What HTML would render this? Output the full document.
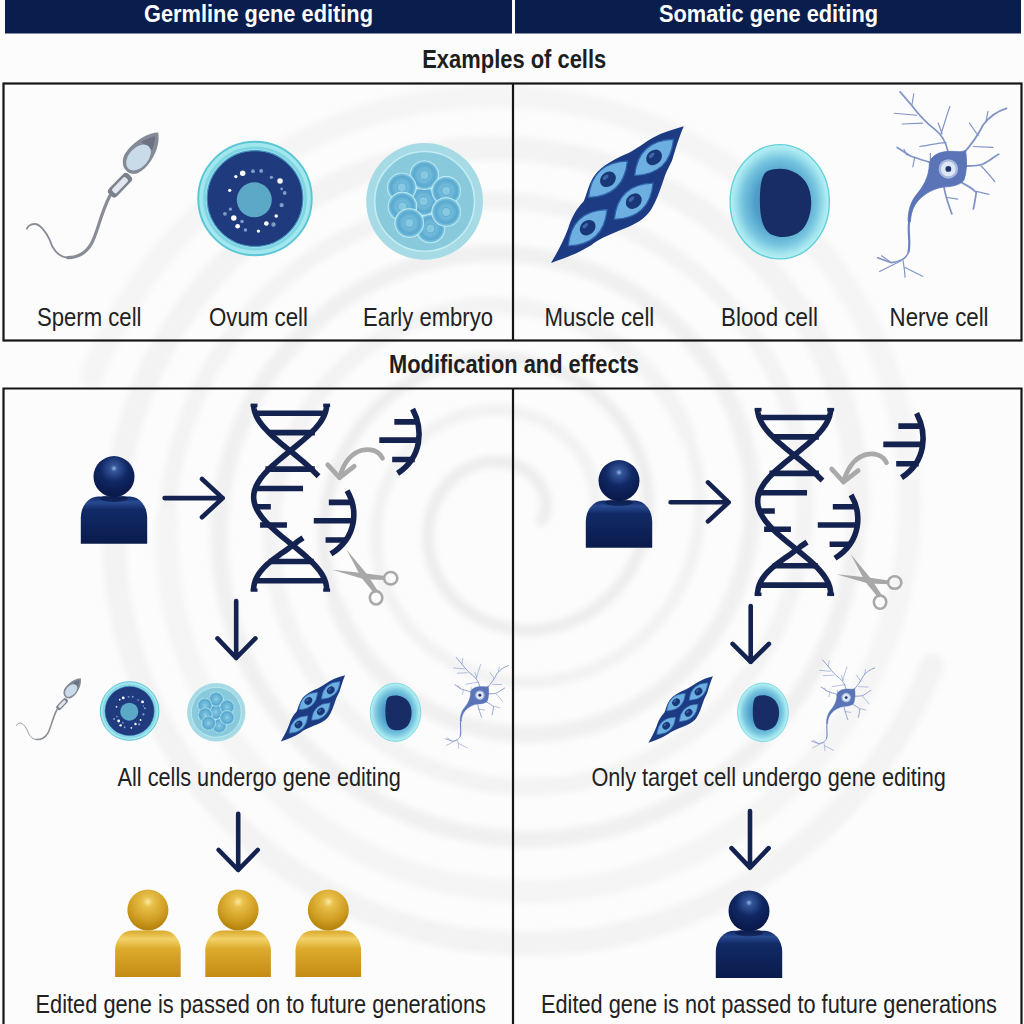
<!DOCTYPE html>
<html><head><meta charset="utf-8">
<style>
html,body{margin:0;padding:0;width:1024px;height:1024px;overflow:hidden;background:#fcfcfc;}
svg{position:absolute;left:0;top:0;}
text{font-family:"Liberation Sans",sans-serif;}
</style></head>
<body>
<svg width="1024" height="1024" viewBox="0 0 1024 1024">
<defs><filter id="blur" x="-10%" y="-10%" width="120%" height="120%"><feGaussianBlur stdDeviation="3"/></filter>
<linearGradient id="gPerson" x1="0" y1="0" x2="0" y2="1">
  <stop offset="0" stop-color="#0f2864"/><stop offset="0.12" stop-color="#284a90"/><stop offset="0.28" stop-color="#112a66"/><stop offset="1" stop-color="#0a1b4c"/>
</linearGradient>
<radialGradient id="gHead" cx="0.5" cy="0.3" r="0.65">
  <stop offset="0" stop-color="#9ab4e0"/><stop offset="0.12" stop-color="#34569a"/><stop offset="0.5" stop-color="#112864"/><stop offset="1" stop-color="#09194a"/>
</radialGradient>
<linearGradient id="gGold" x1="0" y1="0" x2="0" y2="1">
  <stop offset="0" stop-color="#d9a82a"/><stop offset="0.18" stop-color="#f2d268"/><stop offset="0.4" stop-color="#dcaa2c"/><stop offset="1" stop-color="#c48c14"/>
</linearGradient>
<radialGradient id="gGoldHead" cx="0.5" cy="0.3" r="0.65">
  <stop offset="0" stop-color="#fbeaa0"/><stop offset="0.2" stop-color="#e8c04a"/><stop offset="0.7" stop-color="#d09e22"/><stop offset="1" stop-color="#b8860f"/>
</radialGradient>
<radialGradient id="gBlood" cx="0.5" cy="0.5" r="0.5">
  <stop offset="0" stop-color="#3a80b6"/><stop offset="0.5" stop-color="#4f9fcb"/><stop offset="0.75" stop-color="#76c4df"/><stop offset="0.93" stop-color="#a8e9f0"/><stop offset="1" stop-color="#b5eef3"/>
</radialGradient>
<g id="sperm">
  <path d="M109.75,196 C100,215 97,235 91,244.4 C86,253 77,258 67.6,257.6" fill="none" stroke="#878c97" stroke-width="3.2" stroke-linecap="round"/>
  <path d="M67.6,257.6 C58,257 52,248 49.6,239.7 C46,232 40,224 34.75,224 C30,224 27.5,227 26.9,228.75" fill="none" stroke="#878c97" stroke-width="1.8" stroke-linecap="round"/>
  <rect x="-14" y="-5.5" width="28" height="11" rx="4" fill="#7c828d" transform="translate(120,185.2) rotate(-46)"/>
  <rect x="-9.5" y="-3" width="19" height="6" rx="2" fill="#e1e7ee" transform="translate(120,185.2) rotate(-46)"/>
  <path d="M158.2,132.4 C159.5,140 158,150 150.8,160.9 C146,168 140,173 135.2,173.8 C131,174.5 126,172 123.8,167.2 C122,163 122.5,156 126.6,151.6 C131,145 138,140 143.75,136.7 C149,134 153,132.5 158.2,132.4 Z" fill="#858b96"/><path d="M155,136 C152,137 146,139 141,142 L152,150 C154,146 155.5,140 155,136 Z" fill="#6b7385"/>
  <ellipse cx="0" cy="0" rx="9.6" ry="15" fill="#c9dae8" transform="translate(138.5,157.5) rotate(42)"/>
</g>
<g id="ovum">
  <circle r="415" fill="#a2e6ee" stroke="#5ac6d4" stroke-width="14"/>
  <circle r="370" fill="none" stroke="#7fd5e2" stroke-width="20"/>
  <circle r="350" fill="#1f3b7e" stroke="#3f8fbf" stroke-width="8"/>
  <circle cx="-5" cy="10" r="128" fill="#5ba8c7"/>
  <circle cx="-90" cy="-185" r="20" fill="#ffffff"/><circle cx="-140" cy="-160" r="12" fill="#ffffff"/><circle cx="-15" cy="-200" r="14" fill="#7e9cc8"/><circle cx="45" cy="-202" r="14" fill="#7e9cc8"/><circle cx="120" cy="-155" r="12" fill="#7e9cc8"/><circle cx="183" cy="-128" r="20" fill="#ffffff"/><circle cx="195" cy="-70" r="10" fill="#7e9cc8"/><circle cx="217" cy="-40" r="14" fill="#7e9cc8"/><circle cx="195" cy="48" r="16" fill="#7e9cc8"/><circle cx="155" cy="128" r="13" fill="#ffffff"/><circle cx="83" cy="183" r="17" fill="#ffffff"/><circle cx="135" cy="190" r="16" fill="#7e9cc8"/><circle cx="25" cy="238" r="12" fill="#ffffff"/><circle cx="-70" cy="230" r="13" fill="#7e9cc8"/><circle cx="-127" cy="203" r="17" fill="#ffffff"/><circle cx="-155" cy="142" r="20" fill="#ffffff"/><circle cx="-95" cy="168" r="13" fill="#7e9cc8"/><circle cx="-220" cy="112" r="14" fill="#7e9cc8"/><circle cx="-180" cy="78" r="12" fill="#7e9cc8"/><circle cx="-185" cy="-60" r="12" fill="#ffffff"/>
</g>
<radialGradient id="gCell" cx="0.5" cy="0.5" r="0.5">
  <stop offset="0" stop-color="#8ccde3"/><stop offset="0.3" stop-color="#79c0dc"/><stop offset="0.75" stop-color="#5aa8d0"/><stop offset="0.9" stop-color="#78c3de"/><stop offset="1" stop-color="#d8f6f9"/>
</radialGradient>
<g id="ecell">
  <circle r="108" fill="url(#gCell)"/>
  <circle r="34" fill="#86c9e1" stroke="#62aed3" stroke-width="9"/>
</g>
<g id="embryo">
  <circle r="427" fill="#a6dbe5"/>
  <circle r="365" fill="#88c9dc" stroke="#c2ecf3" stroke-width="12"/>
  <use href="#ecell" x="43" y="198"/>
  <use href="#ecell" x="-7" y="-2"/>
  <use href="#ecell" x="-2" y="-192"/>
  <use href="#ecell" x="-167" y="-102"/>
  <use href="#ecell" x="158" y="-77"/>
  <use href="#ecell" x="158" y="78"/>
  <use href="#ecell" x="-162" y="38"/>
  <use href="#ecell" x="-112" y="158"/>
</g>

<g id="muscle">
  <path d="M920,65 C895,120 870,200 845,285 C830,320 815,340 800,380 C770,470 740,560 700,615 C650,680 570,710 490,740 C430,765 370,790 330,825 C250,875 160,910 70,940 C110,875 150,800 180,720 C200,650 235,590 280,545 C300,500 310,440 345,385 C400,310 490,270 570,235 C630,205 690,150 770,115 C830,92 880,78 920,65 Z" fill="#1c3b82"/>
  <g id="spd"><path d="M-170,0 Q0,-150 170,0 Q0,150 -170,0 Z" fill="#6cafe0" stroke="#2f63ad" stroke-width="8" transform="translate(435,405) rotate(-43)"/>
  <ellipse rx="55" ry="45" fill="#1a3877" transform="translate(435,405) rotate(-43)"/><ellipse rx="22" ry="11" fill="#3e66a8" transform="translate(420,392) rotate(-43)"/></g>
  <use href="#spd" x="295" y="-140"/>
  <use href="#spd" x="165" y="140"/>
  <use href="#spd" x="-130" y="310"/>
</g>
<g id="blood">
  <ellipse cx="510" cy="525" rx="363" ry="418" fill="url(#gBlood)" stroke="#62d0da" stroke-width="10"/>
  <path d="M420,300 C520,260 640,290 700,380 C760,470 750,620 690,710 C630,790 520,800 440,760 C380,720 365,620 365,520 C365,400 380,320 420,300 Z" fill="#182c66"/>
</g>
<g id="nerve" fill="none" stroke="#8094c6" stroke-linecap="round" stroke-linejoin="round">
  <g stroke-width="9">
  <path d="M430,345 C420,300 400,260 360,230 C320,200 290,170 245,110 L185,40"/>
  <path d="M510,355 C550,310 580,270 610,210 C640,170 680,140 730,125"/>
  <path d="M520,420 C560,420 590,420 610,410 C640,395 670,370 690,360"/>
  <path d="M500,505 C530,520 560,540 575,555 C570,590 565,620 560,640"/>
  <path d="M410,530 C415,560 425,600 450,665"/>
  <path d="M335,400 C300,390 270,380 240,370 L170,325"/>
  </g>
  <g stroke-width="6">
  <path d="M245,110 L255,50 M270,160 L155,150 M300,200 L195,205 M395,255 C410,210 420,170 440,115 M400,255 L380,200 M420,300 C380,300 330,315 285,320"/>
  <path d="M625,190 L635,140 M585,265 L540,200 M560,320 L660,325"/>
  <path d="M600,420 C630,450 650,475 670,500 M575,550 L640,565 M420,580 L480,590"/>
  <path d="M260,375 L250,425 M220,365 L205,335 M340,400 L340,355"/>
  <path d="M190,905 L80,960 M200,905 C205,940 210,965 210,990 M210,940 L300,985 M140,915 L90,880"/>
  </g>
  <path d="M232,700 C222,760 240,800 228,860" stroke="#6a7fbd" stroke-width="11"/>
  <path d="M228,860 C218,895 190,910 140,915 L70,890" stroke="#7d91c3" stroke-width="8"/>
  <path d="M335,410 C338,368 385,348 430,345 C470,343 495,352 520,340 C528,385 528,445 512,492 C492,520 445,526 405,528 C360,535 310,560 275,600 C250,630 240,665 238,705 L226,705 C224,655 240,600 270,565 C300,530 333,480 335,410 Z" fill="#5b74b8" stroke="#5b74b8" stroke-width="4" stroke-linejoin="round"/>
  <circle cx="432" cy="435" r="44" fill="#dde6f5" stroke="#a6b8dc" stroke-width="12"/>
  <circle cx="432" cy="435" r="15" fill="#22366e" stroke="none"/>
</g>

<g id="dna">
  <g fill="none" stroke="#14224f" stroke-width="26">
    <path d="M110.0,45.0 L111.3,61.6 L115.0,78.3 L121.2,95.0 L129.7,111.6 L140.5,128.2 L153.3,144.9 L168.0,161.6 L184.3,178.2 L202.1,194.8 L221.0,211.5 L240.8,228.2 L261.2,244.8 L281.8,261.4 L302.4,278.1 L322.7,294.8 L342.4,311.4 L361.1,328.1 L378.6,344.7 L394.7,361.4 L412,378.0"/>
    <path d="M450.0,45.0 L448.5,63.0 L444.1,81.0 L436.9,99.1 L427.0,117.1 L414.5,135.1 L399.7,153.1 L382.8,171.1 L364.1,189.2 L344.0,207.2 L322.7,225.2 L300.8,243.2 L278.4,261.2 L256.1,279.3 L234.3,297.3 L213.2,315.3 L193.2,333.3 L174.8,351.4 L158.2,369.4 L143.6,387.4 L131.5,405.4 L121.9,423.4 L115.1,441.5 L111.1,459.5 L110.0,477.5 L111.9,495.5 L116.7,513.5 L124.3,531.6 L134.6,549.6 L147.4,567.6 L162.6,585.6 L179.7,603.6 L198.6,621.7 L218.9,639.7 L240.3,657.7 L262.3,675.7 L284.7,693.8 L306.9,711.8 L328.7,729.8 L349.7,747.8 L369.4,765.8 L387.6,783.9 L404.0,801.9 L418.2,819.9 L430.0,837.9 L439.2,855.9 L445.6,874.0 L449.2,892.0 L449.9,910.0"/>
    <path d="M340,665 L314.5,682.0 L295.5,697.5 L276.3,711.0 L257.1,725.5 L238.2,738.0 L219.9,751.5 L202.3,764.0 L185.7,777.5 L170.3,791.0 L156.3,804.5 L143.9,819.0 L133.3,833.5 L124.5,848.0 L117.8,863.5 L113.1,879.0 L110.5,894.5 L110.1,910.0"/>
    <path d="M125,85 H435 M180,175 H395 M165,345 H395 M120,435 H340 M118,520 H190 M140,605 H265 M180,775 H390 M125,865 H440"/>
    <path d="M545,445 C595,530 595,660 470,740"/>
    <path d="M460,500 H565 M390,585 H575 M445,675 H545"/>
    <path d="M850,65 C900,160 895,290 780,365"/>
    <path d="M765,125 H872 M695,210 H885 M755,300 H860"/>
  </g>
  <g fill="#14224f"><rect x="96" y="40" width="32" height="16"/><rect x="434" y="40" width="32" height="16"/><rect x="96" y="900" width="32" height="16"/><rect x="434" y="900" width="32" height="16"/></g>
  <g fill="none" stroke="#a9a9a9" stroke-width="22" stroke-linecap="round" stroke-linejoin="round">
    <path d="M710,295 C680,230 550,230 510,385"/>
    <path d="M455,325 L510,385 L578,332"/>
  </g>
  <g fill="#a8a8a8">
    <path d="M543,720 L638,835 L690,915 L670,922 L610,848 Z"/>
    <path d="M476,814 L625,830 L722,843 L722,861 L625,858 Z"/>
  </g>
  <g fill="none" stroke="#a8a8a8" stroke-width="12">
    <ellipse cx="748" cy="853" rx="31" ry="29"/>
    <ellipse cx="680" cy="944" rx="29" ry="31"/>
  </g>
</g>
<g id="person">
  <path d="M0,47.3 V21 A17.5,21 0 0 1 17.5,0 H48.9 A17.5,21 0 0 1 66.4,21 V47.3 Z" fill="url(#gPerson)"/>
  <ellipse cx="33.2" cy="2" rx="14" ry="3.5" fill="#0a1a48" opacity="0.7"/>
  <circle cx="33.2" cy="-19.9" r="20.5" fill="url(#gHead)"/>
</g>
<g id="gold">
  <path d="M0,46.4 V20 A17,20 0 0 1 17,0 H48.6 A17,20 0 0 1 65.6,20 V46.4 Z" fill="url(#gGold)"/>
  <circle cx="32.8" cy="-20.6" r="20.5" fill="url(#gGoldHead)"/>
</g>
</defs>
<!-- background spiral -->
<g id="bg" fill="none" stroke-linecap="round" filter="url(#blur)"><path d="M542.0,520.0 L542.8,518.5 L543.5,516.8 L544.1,515.1 L544.7,513.4 L545.1,511.5 L545.4,509.7 L545.7,507.7 L545.8,505.7 L545.8,503.7 L545.7,501.6 L545.4,499.5 L545.0,497.4 L544.5,495.3 L543.9,493.1 L543.1,491.0 L542.2,488.9 L541.2,486.8 L540.0,484.7 L538.7,482.7 L537.2,480.7 L535.7,478.8 L533.9,476.9 L532.1,475.1 L530.1,473.3 L528.0,471.7 L525.8,470.2 L523.5,468.7 L521.1,467.4 L518.5,466.2 L515.9,465.1 L513.2,464.1 L510.3,463.3 L507.4,462.6 L504.5,462.1 L501.4,461.7 L498.3,461.5 L495.2,461.4 L492.0,461.6 L488.8,461.9 L485.6,462.3 L482.4,463.0 L479.1,463.8 L475.9,464.8 L472.7,466.0 L469.5,467.4 L466.4,469.0 L463.3,470.7 L460.3,472.6 L457.4,474.8 L454.5,477.0 L451.7,479.5 L449.1,482.1 L446.5,484.9 L444.1,487.9 L441.8,491.0 L439.6,494.3 L437.6,497.7 L435.8,501.2 L434.2,504.9 L432.7,508.7 L431.4,512.6 L430.3,516.6 L429.4,520.7 L428.7,524.9 L428.2,529.1 L427.9,533.4 L427.9,537.8 L428.1,542.2 L428.5,546.6 L429.1,551.0 L430.0,555.5 L431.1,559.9 L432.5,564.3 L434.1,568.7 L436.0,573.0 L438.0,577.2 L440.4,581.4 L442.9,585.5 L445.7,589.4 L448.7,593.3 L451.9,597.0 L455.4,600.6 L459.0,604.0 L462.9,607.3 L466.9,610.4 L471.2,613.3 L475.6,616.0 L480.2,618.5 L484.9,620.8 L489.8,622.8 L494.9,624.6 L500.0,626.2 L505.3,627.5 L510.7,628.5 L516.1,629.3 L521.6,629.8 L527.2,630.0 L532.9,629.9 L538.5,629.6 L544.2,628.9 L549.9,627.9 L555.6,626.7 L561.2,625.1 L566.8,623.3 L572.3,621.1 L577.7,618.7 L583.1,615.9 L588.3,612.9 L593.4,609.6 L598.4,606.0 L603.2,602.1 L607.8,598.0 L612.3,593.6 L616.6,589.0 L620.6,584.1 L624.4,579.0 L628.0,573.6 L631.3,568.1 L634.3,562.3 L637.1,556.4 L639.6,550.3 L641.7,544.0 L643.6,537.6 L645.1,531.1 L646.4,524.5 L647.3,517.7 L647.8,510.9 L648.0,504.0 L647.9,497.1 L647.4,490.2 L646.5,483.2 L645.3,476.3 L643.7,469.4 L641.8,462.5 L639.5,455.7 L636.9,449.0 L633.9,442.4 L630.5,435.9 L626.8,429.6 L622.8,423.4 L618.4,417.4 L613.8,411.6 L608.8,406.1 L603.4,400.7 L597.8,395.6 L592.0,390.7 L585.8,386.2 L579.4,381.9 L572.7,377.9 L565.8,374.3 L558.7,371.0 L551.4,368.0 L544.0,365.4 L536.3,363.2 L528.6,361.3 L520.7,359.9 L512.6,358.8 L504.5,358.2 L496.4,357.9 L488.2,358.1 L480.0,358.6 L471.7,359.6 L463.5,361.0 L455.4,362.9 L447.2,365.1 L439.2,367.8 L431.3,370.9 L423.5,374.4 L415.9,378.3 L408.4,382.6 L401.2,387.3 L394.1,392.4 L387.3,397.9 L380.7,403.7 L374.4,409.9 L368.4,416.4 L362.7,423.3 L357.3,430.5 L352.3,437.9 L347.6,445.7 L343.3,453.7 L339.4,461.9 L336.0,470.4 L332.9,479.0 L330.2,487.9 L328.0,496.9 L326.3,506.1 L325.0,515.4 L324.1,524.7 L323.8,534.2 L323.9,543.7 L324.5,553.2 L325.6,562.7 L327.1,572.2 L329.2,581.6 L331.7,591.0 L334.7,600.3 L338.2,609.4 L342.2,618.4 L346.6,627.2 L351.5,635.9 L356.8,644.3 L362.6,652.4" stroke="#ededed" stroke-width="12"/><path d="M336.3,604.6 L340.0,613.7 L344.2,622.6 L348.9,631.3 L354.0,639.8 L359.5,648.1 L365.5,656.2 L371.9,663.9 L378.7,671.4 L385.9,678.5 L393.5,685.3 L401.5,691.7 L409.8,697.7 L418.4,703.4 L427.3,708.6 L436.6,713.3 L446.1,717.7 L455.8,721.5 L465.8,724.9 L475.9,727.8 L486.2,730.1 L496.7,732.0 L507.3,733.3 L518.0,734.1 L528.8,734.4 L539.6,734.1 L550.4,733.3 L561.2,731.9 L571.9,730.0 L582.6,727.5 L593.2,724.5 L603.7,721.0 L614.0,716.9 L624.1,712.3 L634.1,707.1 L643.8,701.5 L653.2,695.3 L662.3,688.6 L671.1,681.5 L679.6,673.9 L687.8,665.9 L695.5,657.4 L702.8,648.5 L709.7,639.3 L716.2,629.6 L722.2,619.7 L727.7,609.4 L732.6,598.7 L737.1,587.9 L741.0,576.7 L744.4,565.4 L747.2,553.8 L749.4,542.1 L751.1,530.2 L752.1,518.3 L752.6,506.2 L752.4,494.1 L751.6,482.0 L750.3,469.9 L748.3,457.9 L745.7,445.9 L742.4,434.0 L738.6,422.3 L734.2,410.7 L729.2,399.3 L723.6,388.2 L717.4,377.3 L710.7,366.7 L703.4,356.4 L695.6,346.5 L687.3,336.9 L678.5,327.7 L669.2,319.0 L659.4,310.7 L649.2,302.9 L638.6,295.6 L627.6,288.8 L616.2,282.5 L604.5,276.8 L592.5,271.7 L580.2,267.2 L567.7,263.3 L554.9,260.0 L542.0,257.4 L528.9,255.3 L515.6,254.0 L502.3,253.3 L488.9,253.3 L475.5,254.0 L462.1,255.3 L448.7,257.3 L435.4,260.0 L422.3,263.4 L409.2,267.4 L396.4,272.1 L383.7,277.4 L371.4,283.4 L359.2,290.1 L347.4,297.3 L336.0,305.2 L324.9,313.6 L314.2,322.6 L304.0,332.2 L294.2,342.3 L284.9,352.9 L276.2,364.0 L268.0,375.6 L260.3,387.6 L253.2,400.0 L246.8,412.7 L241.0,425.8 L235.8,439.3 L231.3,453.0 L227.5,466.9 L224.4,481.1 L221.9,495.5 L220.2,510.0 L219.3,524.6 L219.0,539.3 L219.5,554.0 L220.8,568.7 L222.8,583.4 L225.5,597.9 L228.9,612.4 L233.1,626.8 L238.0,640.9 L243.7,654.8 L250.0,668.5 L257.1,681.8 L264.8,694.8 L273.2,707.5 L282.2,719.7 L291.9,731.6 L302.2,742.9 L313.0,753.8 L324.5,764.1 L336.4,773.8 L348.9,783.0 L361.8,791.5 L375.2,799.5 L389.0,806.7 L403.2,813.3 L417.8,819.2 L432.6,824.3 L447.8,828.7 L463.1,832.4 L478.7,835.2 L494.5,837.3 L510.3,838.7 L526.3,839.2 L542.3,838.9 L558.3,837.8 L574.3,835.9 L590.2,833.2 L606.0,829.7 L621.7,825.4 L637.1,820.3 L652.4,814.4 L667.3,807.8 L681.9,800.4 L696.2,792.2 L710.1,783.4 L723.5,773.8 L736.5,763.5 L749.0,752.6 L760.9,741.0 L772.3,728.8 L783.1,716.0 L793.3,702.7 L802.8,688.8 L811.6,674.4 L819.7,659.6 L827.1,644.4 L833.7,628.7 L839.5,612.8 L844.5,596.5 L848.8,579.9 L852.2,563.1 L854.7,546.1 L856.4,529.0 L857.3,511.7 L857.3,494.4 L856.4,477.1 L854.7,459.8 L852.0,442.5 L848.5,425.4" stroke="#f0f0f0" stroke-width="17"/><path d="M857.0,520.0 L857.4,502.7 L856.9,485.4 L855.6,468.1 L853.4,450.8 L850.3,433.6 L846.4,416.6 L841.6,399.7 L835.9,383.0 L829.4,366.7 L822.1,350.6 L814.0,334.9 L805.0,319.5 L795.3,304.6 L784.8,290.2 L773.6,276.3 L761.7,262.9 L749.1,250.1 L735.8,238.0 L721.9,226.5 L707.4,215.6 L692.4,205.5 L676.8,196.2 L660.8,187.6 L644.3,179.8 L627.4,172.8 L610.1,166.6 L592.5,161.4 L574.6,157.0 L556.5,153.5 L538.2,150.9 L519.7,149.2 L501.1,148.4 L482.5,148.6 L463.9,149.7 L445.3,151.7 L426.8,154.7 L408.4,158.6 L390.2,163.5 L372.2,169.2 L354.5,175.9 L337.1,183.5 L320.1,191.9 L303.5,201.2 L287.3,211.3 L271.7,222.3 L256.5,234.1 L242.0,246.6 L228.0,259.9 L214.7,273.9 L202.1,288.5 L190.3,303.8 L179.1,319.8 L168.8,336.2 L159.3,353.3 L150.6,370.8 L142.8,388.8 L135.9,407.1 L130.0,425.9 L124.9,444.9 L120.8,464.2 L117.7,483.8 L115.5,503.5 L114.4,523.3 L114.2,543.3 L115.0,563.2 L116.9,583.1 L119.7,603.0 L123.5,622.7 L128.3,642.2 L134.1,661.5 L140.9,680.6 L148.7,699.3 L157.4,717.6 L167.0,735.6 L177.5,753.0 L188.9,769.9 L201.1,786.3 L214.2,802.1 L228.1,817.2 L242.8,831.7 L258.2,845.4 L274.3,858.4 L291.1,870.5 L308.4,881.9 L326.4,892.3 L344.9,901.9 L363.9,910.6 L383.4,918.3 L403.2,925.0 L423.4,930.8 L443.9,935.5 L464.7,939.2 L485.6,941.9 L506.8,943.5 L528.0,944.1 L549.2,943.6 L570.4,942.0 L591.6,939.4 L612.7,935.7 L633.6,931.0 L654.2,925.2 L674.6,918.3 L694.7,910.4 L714.4,901.6 L733.6,891.7 L752.4,880.8 L770.6,869.1 L788.2,856.3 L805.3,842.7 L821.6,828.3 L837.3,813.0 L852.2,796.9 L866.2,780.0 L879.5,762.4 L891.9,744.2 L903.3,725.3 L913.9,705.9 L923.4,685.9 L932.0,665.4" stroke="#f3f3f3" stroke-width="24"/><path d="M594.5,520.0 L595.2,515.8 L595.8,511.6 L596.1,507.3 L596.1,502.9 L596.0,498.6 L595.6,494.1 L595.0,489.7 L594.1,485.3 L593.1,480.8 L591.7,476.4 L590.2,472.1 L588.4,467.8 L586.3,463.5 L584.0,459.3 L581.5,455.2 L578.8,451.2 L575.8,447.3 L572.6,443.6 L569.2,440.0 L565.6,436.5 L561.8,433.2 L557.8,430.1 L553.6,427.2 L549.2,424.4 L544.6,421.9 L539.9,419.6 L535.0,417.5 L530.0,415.6 L524.9,414.0 L519.6,412.7 L514.3,411.6 L508.8,410.8 L503.3,410.3 L497.7,410.0 L492.1,410.0 L486.4,410.4 L480.7,411.0 L475.1,411.9 L469.4,413.1 L463.8,414.6 L458.2,416.4 L452.6,418.5 L447.2,420.9 L441.8,423.6 L436.6,426.6 L431.4,429.8 L426.4,433.4 L421.6,437.2 L416.9,441.3 L412.4,445.6 L408.1,450.2 L404.1,455.1 L400.2,460.2 L396.6,465.5 L393.3,471.0 L390.2,476.7 L387.4,482.6 L384.8,488.7 L382.6,494.9 L380.7,501.3 L379.1,507.8 L377.8,514.4 L376.9,521.1 L376.3,527.9 L376.0,534.8 L376.1,541.7 L376.5,548.7 L377.3,555.6 L378.5,562.5 L380.0,569.5 L381.8,576.3 L384.1,583.1 L386.7,589.9 L389.6,596.5 L392.9,603.0 L396.5,609.3 L400.5,615.5 L404.8,621.6 L409.4,627.4 L414.4,633.0 L419.6,638.4 L425.2,643.6 L431.0,648.5 L437.1,653.1 L443.5,657.4 L450.1,661.4 L457.0,665.1 L464.0,668.5 L471.3,671.5 L478.8,674.2 L486.4,676.5 L494.1,678.4 L502.0,679.9 L510.0,681.0 L518.1,681.8 L526.2,682.1 L534.4,682.0 L542.7,681.5 L550.9,680.6 L559.1,679.2 L567.3,677.5 L575.4,675.3 L583.4,672.7 L591.4,669.7 L599.2,666.2 L606.8,662.4 L614.3,658.1 L621.6,653.5 L628.7,648.5 L635.6,643.1 L642.2,637.3 L648.6,631.2 L654.6,624.7 L660.4,617.9 L665.8,610.8 L670.9,603.4 L675.6,595.7 L680.0,587.7 L683.9,579.5 L687.5,571.1 L690.6,562.4 L693.4,553.6 L695.6,544.6 L697.5,535.5 L698.8,526.2 L699.8,516.8 L700.2,507.4 L700.2,497.9 L699.6,488.4 L698.6,478.9 L697.2,469.4 L695.2,459.9 L692.7,450.6 L689.8,441.3 L686.4,432.1 L682.5,423.1 L678.2,414.2 L673.4,405.6 L668.1,397.1 L662.4,388.9" stroke="#f2f2f2" stroke-width="12"/><path d="M687.7,435.4 L684.0,426.3 L679.8,417.4 L675.1,408.7 L670.0,400.2 L664.5,391.9 L658.5,383.8 L652.1,376.1 L645.3,368.6 L638.1,361.5 L630.5,354.7 L622.5,348.3 L614.2,342.3 L605.6,336.6 L596.7,331.4 L587.4,326.7 L577.9,322.3 L568.2,318.5 L558.2,315.1 L548.1,312.2 L537.8,309.9 L527.3,308.0 L516.7,306.7 L506.0,305.9 L495.2,305.6 L484.4,305.9 L473.6,306.7 L462.8,308.1 L452.1,310.0 L441.4,312.5 L430.8,315.5 L420.3,319.0 L410.0,323.1 L399.9,327.7 L389.9,332.9 L380.2,338.5 L370.8,344.7 L361.7,351.4 L352.9,358.5 L344.4,366.1 L336.2,374.1 L328.5,382.6 L321.2,391.5 L314.3,400.7 L307.8,410.4 L301.8,420.3 L296.3,430.6 L291.4,441.3 L286.9,452.1 L283.0,463.3 L279.6,474.6 L276.8,486.2 L274.6,497.9 L272.9,509.8 L271.9,521.7 L271.4,533.8 L271.6,545.9 L272.4,558.0 L273.7,570.1 L275.7,582.1 L278.3,594.1 L281.6,606.0 L285.4,617.7 L289.8,629.3 L294.8,640.7 L300.4,651.8 L306.6,662.7 L313.3,673.3 L320.6,683.6 L328.4,693.5 L336.7,703.1 L345.5,712.3 L354.8,721.0 L364.6,729.3 L374.8,737.1 L385.4,744.4 L396.4,751.2 L407.8,757.5 L419.5,763.2 L431.5,768.3 L443.8,772.8 L456.3,776.7 L469.1,780.0 L482.0,782.6 L495.1,784.7 L508.4,786.0 L521.7,786.7 L535.1,786.7 L548.5,786.0 L561.9,784.7 L575.3,782.7 L588.6,780.0 L601.7,776.6 L614.8,772.6 L627.6,767.9 L640.3,762.6 L652.6,756.6 L664.8,749.9 L676.6,742.7 L688.0,734.8 L699.1,726.4 L709.8,717.4 L720.0,707.8 L729.8,697.7 L739.1,687.1 L747.8,676.0 L756.0,664.4 L763.7,652.4 L770.8,640.0 L777.2,627.3 L783.0,614.2 L788.2,600.7 L792.7,587.0 L796.5,573.1 L799.6,558.9 L802.1,544.5 L803.8,530.0 L804.7,515.4 L805.0,500.7 L804.5,486.0 L803.2,471.3 L801.2,456.6 L798.5,442.1 L795.1,427.6 L790.9,413.2 L786.0,399.1 L780.3,385.2 L774.0,371.5 L766.9,358.2 L759.2,345.2 L750.8,332.5 L741.8,320.3 L732.1,308.4 L721.8,297.1 L711.0,286.2 L699.5,275.9 L687.6,266.2 L675.1,257.0 L662.2,248.5 L648.8,240.5 L635.0,233.3 L620.8,226.7 L606.2,220.8 L591.4,215.7 L576.2,211.3 L560.9,207.6 L545.3,204.8 L529.5,202.7 L513.7,201.3 L497.7,200.8 L481.7,201.1 L465.7,202.2 L449.7,204.1 L433.8,206.8 L418.0,210.3 L402.3,214.6 L386.9,219.7 L371.6,225.6 L356.7,232.2 L342.1,239.6 L327.8,247.8 L313.9,256.6 L300.5,266.2 L287.5,276.5 L275.0,287.4 L263.1,299.0 L251.7,311.2 L240.9,324.0 L230.7,337.3 L221.2,351.2 L212.4,365.6 L204.3,380.4 L196.9,395.6 L190.3,411.3 L184.5,427.2 L179.5,443.5 L175.2,460.1 L171.8,476.9 L169.3,493.9 L167.6,511.0 L166.7,528.3 L166.7,545.6 L167.6,562.9 L169.3,580.2 L172.0,597.5 L175.5,614.6" stroke="#f3f3f3" stroke-width="17"/><path d="M167.0,520.0 L166.6,537.3 L167.1,554.6 L168.4,571.9 L170.6,589.2 L173.7,606.4 L177.6,623.4 L182.4,640.3 L188.1,657.0 L194.6,673.3 L201.9,689.4 L210.0,705.1 L219.0,720.5 L228.7,735.4 L239.2,749.8 L250.4,763.7 L262.3,777.1 L274.9,789.9 L288.2,802.0 L302.1,813.5 L316.6,824.4 L331.6,834.5 L347.2,843.8 L363.2,852.4 L379.7,860.2 L396.6,867.2 L413.9,873.4 L431.5,878.6 L449.4,883.0 L467.5,886.5 L485.8,889.1 L504.3,890.8 L522.9,891.6 L541.5,891.4 L560.1,890.3 L578.7,888.3 L597.2,885.3 L615.6,881.4 L633.8,876.5 L651.8,870.8 L669.5,864.1 L686.9,856.5 L703.9,848.1 L720.5,838.8 L736.7,828.7 L752.3,817.7 L767.5,805.9 L782.0,793.4 L796.0,780.1 L809.3,766.1 L821.9,751.5 L833.7,736.2 L844.9,720.2 L855.2,703.8 L864.7,686.7 L873.4,669.2 L881.2,651.2 L888.1,632.9 L894.0,614.1 L899.1,595.1 L903.2,575.8 L906.3,556.2 L908.5,536.5 L909.6,516.7 L909.8,496.7 L909.0,476.8 L907.1,456.9 L904.3,437.0 L900.5,417.3 L895.7,397.8 L889.9,378.5 L883.1,359.4 L875.3,340.7 L866.6,322.4 L857.0,304.4 L846.5,287.0 L835.1,270.1 L822.9,253.7 L809.8,237.9 L795.9,222.8 L781.2,208.3 L765.8,194.6 L749.7,181.6 L732.9,169.5 L715.6,158.1 L697.6,147.7 L679.1,138.1 L660.1,129.4 L640.6,121.7 L620.8,115.0 L600.6,109.2 L580.1,104.5 L559.3,100.8 L538.4,98.1 L517.2,96.5 L496.0,95.9 L474.8,96.4 L453.6,98.0 L432.4,100.6 L411.3,104.3 L390.4,109.0 L369.8,114.8 L349.4,121.7 L329.3,129.6 L309.6,138.4 L290.4,148.3 L271.6,159.2 L253.4,170.9 L235.8,183.7 L218.7,197.3 L202.4,211.7 L186.7,227.0 L171.8,243.1 L157.8,260.0 L144.5,277.6 L132.1,295.8 L120.7,314.7 L110.1,334.1 L100.6,354.1 L92.0,374.6" stroke="#f5f5f5" stroke-width="24"/></g>

<!-- header bars -->
<rect x="5" y="0" width="507" height="33.5" fill="#091e4c"/>
<rect x="515" y="0" width="506" height="33.5" fill="#091e4c"/>
<text x="144.00" y="21.5" font-size="24" font-weight="700" fill="#fff" textLength="229.00" lengthAdjust="spacingAndGlyphs">Germline gene editing</text>
<text x="659.00" y="21.5" font-size="24" font-weight="700" fill="#fff" textLength="219.00" lengthAdjust="spacingAndGlyphs">Somatic gene editing</text>

<!-- section titles -->
<text x="422.25" y="67.5" font-size="25" font-weight="700" fill="#1e1e1e" textLength="184.00" lengthAdjust="spacingAndGlyphs">Examples of cells</text>
<text x="389.00" y="372.7" font-size="25.5" font-weight="700" fill="#1e1e1e" textLength="250.00" lengthAdjust="spacingAndGlyphs">Modification and effects</text>

<!-- boxes -->
<g fill="none" stroke="#151515" stroke-width="2.2">
<rect x="3.5" y="83.5" width="1018" height="257"/>
<line x1="513" y1="83.5" x2="513" y2="340.5"/>
<path d="M3.5 1030 V388.5 H1021.5 V1030"/>
<line x1="513" y1="388.5" x2="513" y2="1030"/>
</g>

<!-- labels -->
<g font-size="25.5" fill="#222">
<text x="37.00" y="325.5" textLength="104.50" lengthAdjust="spacingAndGlyphs">Sperm cell</text>
<text x="209.00" y="325.5" textLength="99.00" lengthAdjust="spacingAndGlyphs">Ovum cell</text>
<text x="363.00" y="325.5" textLength="130.00" lengthAdjust="spacingAndGlyphs">Early embryo</text>
<text x="544.55" y="325.5" textLength="109.75" lengthAdjust="spacingAndGlyphs">Muscle cell</text>
<text x="721.00" y="325.5" textLength="97.00" lengthAdjust="spacingAndGlyphs">Blood cell</text>
<text x="889.55" y="325.5" textLength="99.00" lengthAdjust="spacingAndGlyphs">Nerve cell</text>
<text x="117.60" y="785.7" textLength="283.20" lengthAdjust="spacingAndGlyphs">All cells undergo gene editing</text>
<text x="591.40" y="786.4" textLength="354.40" lengthAdjust="spacingAndGlyphs">Only target cell undergo gene editing</text>
<text x="35.60" y="1013.3" font-size="26" textLength="450.40" lengthAdjust="spacingAndGlyphs">Edited gene is passed on to future generations</text>
<text x="541.00" y="1013.3" font-size="26" textLength="456.00" lengthAdjust="spacingAndGlyphs">Edited gene is not passed to future generations</text>
</g>

<!-- GRAPHICS -->
<use href="#sperm"/>
<use href="#sperm" transform="translate(3.26,613.3) scale(0.49)"/>
<use href="#ovum" transform="translate(255,198.5) scale(0.13672)"/>
<use href="#ovum" transform="translate(129.6,711) scale(0.07065)"/>
<use href="#embryo" transform="translate(424.6,201.4) scale(0.13672)"/>
<use href="#embryo" transform="translate(216.3,712.3) scale(0.0684)"/>

<use href="#muscle" transform="translate(540,116) scale(0.15625)"/>
<use href="#muscle" transform="translate(275.45,670.3) scale(0.0757)"/>
<use href="#muscle" transform="translate(643,671.4) scale(0.076)"/>
<use href="#blood" transform="translate(710,130) scale(0.13672)"/>
<use href="#blood" transform="translate(359.94,675.7) scale(0.06973)"/>
<use href="#blood" transform="translate(727.2,675.5) scale(0.0701)"/>
<use href="#nerve" transform="translate(864,84) scale(0.19524)"/>
<use href="#nerve" transform="translate(438.56,653.6) scale(0.09567)"/>
<use href="#nerve" transform="translate(804.86,656) scale(0.09567)"/>

<use href="#dna" transform="translate(230,395) scale(0.21482)"/>
<use href="#dna" transform="translate(734,399.3) scale(0.21482)"/>
<use href="#person" transform="translate(80.8,496.5)"/>
<use href="#person" transform="translate(585.8,500.5)"/>
<use href="#person" transform="translate(715.8,930.8)"/>
<use href="#gold" transform="translate(115.1,930.6)"/>
<use href="#gold" transform="translate(205.3,930.6)"/>
<use href="#gold" transform="translate(295.5,930.6)"/>
<g fill="none" stroke="#14224f" stroke-width="4.6" stroke-linecap="round" stroke-linejoin="round">
  <path d="M164.6,498.1 H222.7 M202,479 L222.7,498.1 L202,517.2"/>
  <path d="M670.6,502.3 H728.7 M708,482.4 L728.7,502.3 L708,521.4"/>
  <path d="M236.2,601 V658 M217.5,638.4 L236.2,658 L255.4,638.4"/>
  <path d="M750.7,606 V661.9 M732.6,643.9 L750.7,661.9 L768.9,643.9"/>
  <path d="M238.2,813.7 V870 M218.7,850 L238.2,870 L257.7,850"/>
  <path d="M750,811 V867.7 M731.5,848.2 L750,867.7 L768.6,848.2"/>
</g>
<!-- G4 -->
</svg>
</body></html>
